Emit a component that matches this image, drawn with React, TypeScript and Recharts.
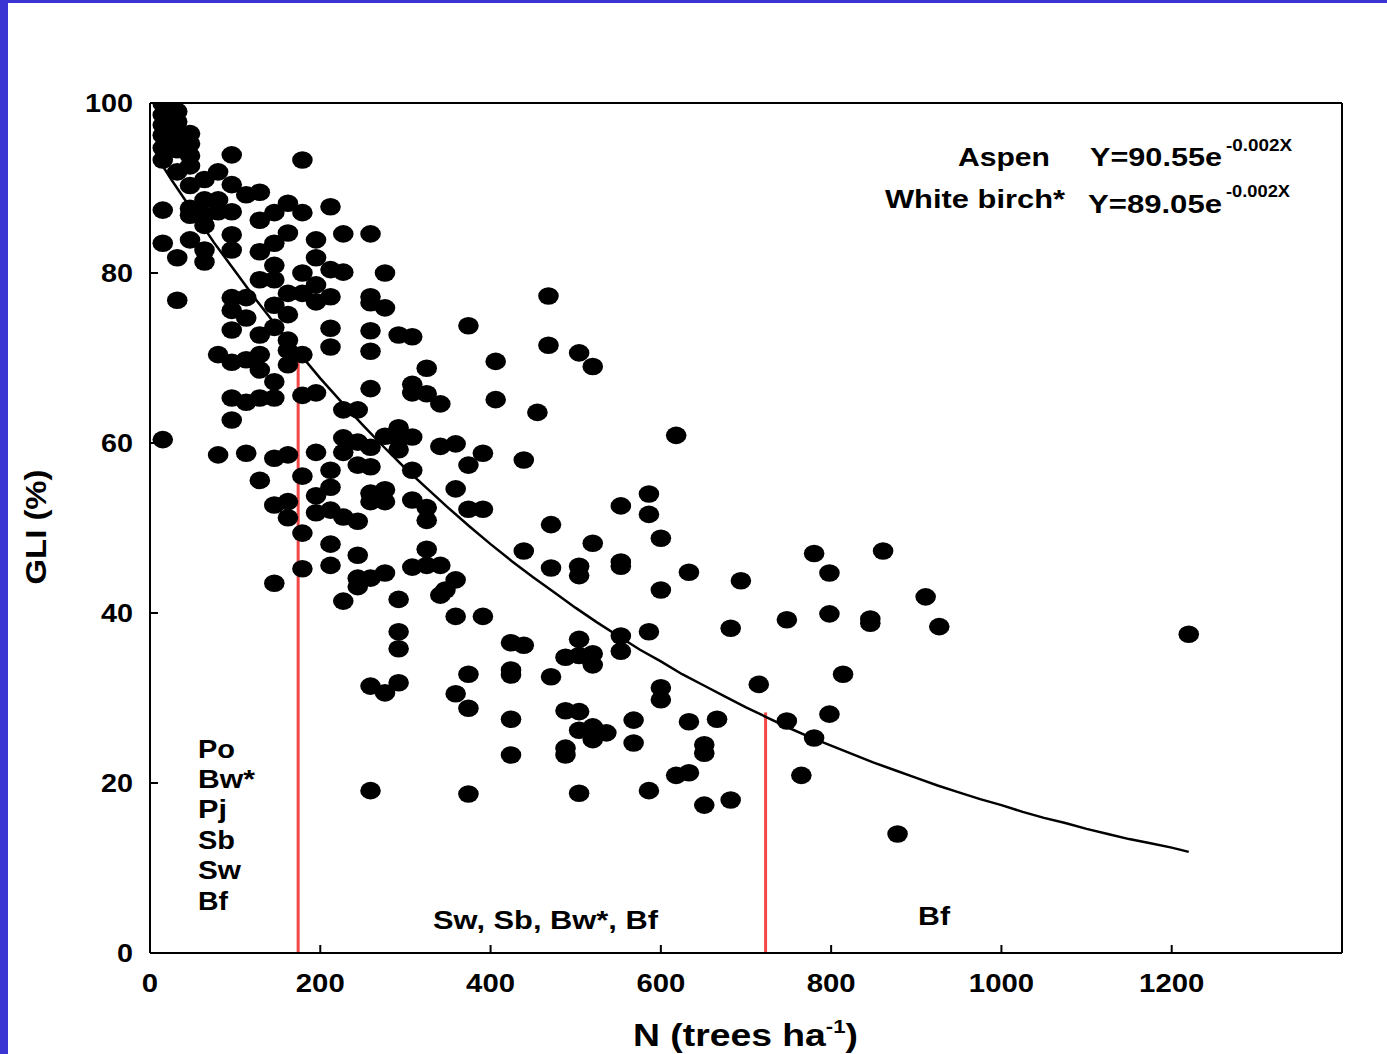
import React from 'react';
import { ScatterChart, Scatter, XAxis, YAxis, ReferenceLine } from 'recharts';

// Stand density (trees/ha) and GLI (%) for each plot
const treeDensity = [
  15, 15, 15, 15, 15, 15, 15, 15, 15,
  32, 32, 32, 32, 32, 32, 32, 32,
  47, 47, 47, 47, 47, 47, 47, 47,
  64, 64, 64, 64, 64, 64,
  80, 80, 80, 80, 80,
  96, 96, 96, 96, 96, 96, 96, 96, 96, 96, 96,
  113, 113, 113, 113, 113, 113,
  129, 129, 129, 129, 129, 129, 129, 129, 129,
  146, 146, 146, 146, 146, 146, 146, 146, 146, 146, 146,
  162, 162, 162, 162, 162, 162, 162, 162, 162, 162,
  179, 179, 179, 179, 179, 179, 179, 179, 179,
  195, 195, 195, 195, 195, 195, 195, 195,
  212, 212, 212, 212, 212, 212, 212, 212, 212, 212,
  227, 227, 227, 227, 227, 227, 227,
  244, 244, 244, 244, 244, 244, 244,
  259, 259, 259, 259, 259, 259, 259, 259, 259, 259, 259, 259, 259,
  276, 276, 276, 276, 276, 276, 276,
  292, 292, 292, 292, 292, 292, 292, 292,
  308, 308, 308, 308, 308, 308, 308,
  325, 325, 325, 325, 325, 325,
  341, 341, 341, 341, 347,
  359, 359, 359, 359, 359,
  374, 374, 374, 374, 374, 374,
  391, 391, 391,
  406, 406,
  424, 424, 424, 424, 424,
  439, 439, 439,
  455,
  468, 468, 471, 471, 471,
  488, 488, 488, 488,
  504, 504, 504, 504, 504, 504, 504, 504,
  520, 520, 520, 520, 520, 520,
  536,
  553, 553, 553, 553, 553,
  568, 568,
  586, 586, 586, 586,
  600, 600, 600, 600,
  618, 618,
  633, 633, 633,
  651, 651, 651,
  666,
  682, 682,
  694,
  715,
  748, 748,
  765,
  780, 780,
  798, 798, 798,
  814,
  846, 846,
  861,
  878,
  911,
  927,
  1220,
];

const gliValues = [
  99.9, 98.6, 97.4, 96.2, 94.7, 93.3, 87.4, 83.5, 60.4,
  99, 97.8, 96.8, 95.7, 94.5, 91.9, 81.8, 76.8,
  96.4, 95.2, 93.8, 92.6, 90.3, 87.6, 86.8, 83.9,
  88.6, 86.8, 85.6, 82.7, 81.3, 91,
  91.9, 88.6, 87.2, 70.4, 58.6,
  93.9, 90.4, 87.2, 84.5, 82.7, 77.1, 75.6, 73.3, 69.5, 65.3, 62.7,
  89.2, 77.1, 74.7, 69.8, 64.8, 58.8,
  89.5, 86.2, 82.5, 79.2, 72.7, 70.4, 68.6, 65.3, 55.6,
  87.1, 83.5, 80.9, 79.2, 76.2, 73.6, 67.2, 65.3, 58.2, 52.7, 43.5,
  88.2, 84.7, 77.6, 75.1, 72.1, 70.9, 69.2, 58.6, 53.1, 51.2,
  93.3, 87.1, 80, 77.6, 70.4, 65.6, 56.1, 49.4, 45.2,
  83.9, 81.8, 78.6, 76.6, 65.9, 58.9, 53.8, 51.8,
  87.8, 80.4, 77.2, 73.5, 71.3, 56.8, 54.8, 52.1, 48.1, 45.6,
  84.6, 80.1, 63.9, 60.6, 58.9, 51.3, 41.4,
  63.9, 60.1, 57.4, 50.8, 46.8, 44.1, 43.1,
  84.6, 77.2, 76.5, 73.2, 70.8, 66.4, 59.5, 57.2, 54.1, 53.1, 44.1, 31.4, 19.1,
  80, 75.9, 60.8, 54.5, 53.1, 44.7, 30.6,
  72.7, 61.8, 60.4, 59.2, 41.6, 37.8, 35.8, 31.8,
  72.5, 66.9, 65.9, 60.7, 56.8, 53.3, 45.4,
  68.8, 65.8, 52.4, 50.9, 47.5, 45.6,
  64.6, 59.6, 45.6, 42.1, 42.7,
  59.9, 54.6, 43.9, 39.6, 30.5,
  73.8, 57.4, 52.2, 32.8, 28.8, 18.7,
  58.8, 52.2, 39.6,
  69.6, 65.1,
  36.5, 33.3, 32.7, 27.5, 23.3,
  58, 47.3, 36.2,
  63.6,
  77.3, 71.5, 50.4, 45.3, 32.5,
  34.8, 28.5, 24.1, 23.3,
  70.6, 45.5, 44.4, 36.9, 35, 28.4, 26.2, 18.8,
  69, 48.2, 35.2, 33.9, 26.6, 25.1,
  25.9,
  52.6, 46, 45.5, 37.3, 35.5,
  27.4, 24.7,
  54, 51.6, 37.8, 19.1,
  48.8, 42.7, 31.2, 29.8,
  60.9, 20.9,
  44.8, 27.2, 21.2,
  24.5, 23.5, 17.4,
  27.5,
  38.2, 18,
  43.8,
  31.6,
  39.2, 27.3,
  20.9,
  47, 25.3,
  44.7, 39.9, 28.1,
  32.8,
  39.3, 38.8,
  47.3,
  14,
  41.9,
  38.4,
  37.5,
];

// fitted curve
const curveN = [
  8, 25, 50, 75, 100, 125, 150, 175, 200, 225, 250, 275, 300, 325, 350, 375, 400, 425, 450, 475,
  500, 525, 550, 575, 600, 625, 650, 675, 700, 725, 750, 775, 800, 825, 850, 875, 900, 925, 950, 975,
  1000, 1025, 1050, 1075, 1100, 1125, 1150, 1175, 1200, 1220,
];
const curveGLI = [
  93.7, 91.0, 87.3, 83.6, 80.2, 76.8, 73.6, 70.6, 67.6, 64.8, 62.1, 59.5, 57.0, 54.7, 52.4, 50.2, 48.1, 46.1, 44.2, 42.4,
  40.6, 38.9, 37.3, 35.7, 34.3, 32.8, 31.5, 30.2, 28.9, 27.7, 26.5, 25.4, 24.4, 23.4, 22.4, 21.5, 20.6, 19.7, 18.9, 18.1,
  17.4, 16.6, 15.9, 15.3, 14.6, 14.0, 13.4, 12.9, 12.4, 11.9,
];

const xTicks = [0, 200, 400, 600, 800, 1000, 1200];
const yTicks = [0, 20, 40, 60, 80, 100];

// species group boundaries (N) and heights where they meet the curve
const boundaryN = [174, 723];
const boundaryTop = [71, 28.3];

const points = treeDensity.map((n, i) => ({ n, g: gliValues[i] }));
const curve = curveN.map((n, i) => ({ n, g: curveGLI[i] }));

const FONT = '"Liberation Sans", Arial, sans-serif';

const Dot = (props: any) => (
  <ellipse cx={props.cx} cy={props.cy} rx={10.3} ry={8.8} fill="#000" />
);

const XTick = ({ x, y, payload }: any) => {
  const label = String(payload.value);
  return (
    <text x={x} y={y + 39} textAnchor="middle" fontSize={26} fontWeight="bold" fontFamily={FONT} fill="#000"
      textLength={label.length * 16.3} lengthAdjust="spacingAndGlyphs">
      {label}
    </text>
  );
};

const YTick = ({ x, y, payload }: any) => {
  const label = String(payload.value);
  return (
    <text x={x - 17} y={y + 9} textAnchor="end" fontSize={26} fontWeight="bold" fontFamily={FONT} fill="#000"
      textLength={label.length * 16} lengthAdjust="spacingAndGlyphs">
      {label}
    </text>
  );
};

const T = ({ x, y, w, size = 26, anchor = 'start', children }: any) => (
  <text x={x} y={y} fontSize={size} fontWeight="bold" fontFamily={FONT} fill="#000" textAnchor={anchor}
    textLength={w} lengthAdjust="spacingAndGlyphs">
    {children}
  </text>
);

export default function App() {
  const axisLine = { stroke: '#000', strokeWidth: 2 };
  const tickLine = { stroke: '#000', strokeWidth: 2 };
  return (
    <div style={{ position: 'absolute', left: 0, top: 0, width: 1387, height: 1054, background: '#fff', overflow: 'hidden' }}>
      <div style={{ position: 'absolute', left: 0, top: 0, width: 1387, height: 3, background: '#3b35d3' }} />
      <div style={{ position: 'absolute', left: 0, top: 0, width: 8, height: 1054, background: '#3b35d3' }} />
      <div style={{ position: 'absolute', left: 8, top: 3 }}>
        <ScatterChart width={1379} height={1051} margin={{ top: 99, right: 44, bottom: 0, left: 0 }}>
          <XAxis dataKey="n" type="number" domain={[0, 1400]} ticks={xTicks} height={101}
            axisLine={axisLine} tickLine={tickLine} tickSize={-8} tickMargin={8} tick={<XTick />} allowDataOverflow />
          <XAxis xAxisId="top" dataKey="n" type="number" orientation="top" domain={[0, 1400]} ticks={xTicks} height={1}
            axisLine={axisLine} tickLine={tickLine} tickSize={-8} tick={false} />
          <YAxis dataKey="g" type="number" domain={[0, 100]} ticks={yTicks} width={142}
            axisLine={axisLine} tickLine={tickLine} tickSize={-8} tickMargin={8} tick={<YTick />} allowDataOverflow />
          <YAxis yAxisId="right" dataKey="g" type="number" orientation="right" domain={[0, 100]} ticks={yTicks} width={1}
            axisLine={axisLine} tickLine={tickLine} tickSize={-8} tick={false} />
          <Scatter data={points} shape={<Dot />} isAnimationActive={false} />
          <Scatter data={curve} shape={() => <g />} line={{ stroke: '#000', strokeWidth: 2.5 }} lineType="joint" isAnimationActive={false} />
          {boundaryN.map((n, i) => (
            <ReferenceLine key={n} segment={[{ x: n, y: 0 }, { x: n, y: boundaryTop[i] }]}
              stroke="#f44848" strokeWidth={3} ifOverflow="visible" />
          ))}
        </ScatterChart>
      </div>
      <svg width={1387} height={1054} style={{ position: 'absolute', left: 0, top: 0, pointerEvents: 'none' }}>
        <text transform="translate(46,527) rotate(-90)" fontSize={30} fontWeight="bold" fontFamily={FONT} textAnchor="middle"
          textLength={115} lengthAdjust="spacingAndGlyphs">GLI (%)</text>
        <text x={633} y={1046} fontSize={32} fontWeight="bold" fontFamily={FONT} textLength={225} lengthAdjust="spacingAndGlyphs">
          N (trees ha<tspan dy={-13} fontSize={19}>-1</tspan><tspan dy={13}>)</tspan>
        </text>
        <T x={958} y={166} w={92}>Aspen</T>
        <T x={1090} y={166} w={132}>Y=90.55e</T>
        <T x={1226} y={151} w={66} size={17}>-0.002X</T>
        <T x={885} y={208} w={180}>White birch*</T>
        <T x={1088} y={213} w={134}>Y=89.05e</T>
        <T x={1226} y={197} w={64} size={17}>-0.002X</T>
        <T x={198} y={758} w={37}>Po</T>
        <T x={198} y={788} w={57}>Bw*</T>
        <T x={198} y={818} w={29}>Pj</T>
        <T x={198} y={849} w={37}>Sb</T>
        <T x={198} y={879} w={43}>Sw</T>
        <T x={198} y={910} w={30}>Bf</T>
        <T x={433} y={929} w={225}>Sw, Sb, Bw*, Bf</T>
        <T x={918} y={925} w={32}>Bf</T>
      </svg>
    </div>
  );
}
